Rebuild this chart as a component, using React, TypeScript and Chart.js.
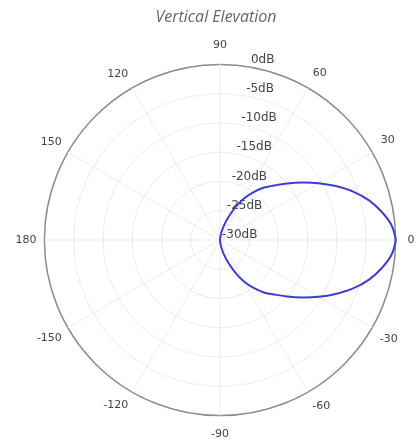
import React, { useEffect, useRef } from 'react';
import { Chart, registerables } from 'chart.js';

Chart.register(...registerables);

// Angles (degrees) in the order Chart.js walks them: from the top (90) clockwise.
const angleLabels = [
  90, 85, 80, 75, 70, 65, 60, 55, 50, 45, 40, 35, 30, 25, 20, 15, 10, 5, 0,
  -5, -10, -15, -20, -25, -30, -35, -40, -45, -50, -55, -60, -65, -70, -75, -80, -85, -90,
  -95, -100, -105, -110, -115, -120, -125, -130, -135, -140, -145, -150, -155, -160, -165, -170, -175,
  180, 175, 170, 165, 160, 155, 150, 145, 140, 135, 130, 125, 120, 115, 110, 105, 100, 95,
];

const gainDb = [
  -30, -29.6, -28.8, -27.5, -25.9, -23.9, -21.8, -20.0, -18.3, -16.8, -15.0, -12.9, -10.6, -8.2, -5.8, -3.7, -2.0, -0.6, 0,
  -0.6, -2.0, -3.7, -5.8, -8.2, -10.6, -12.9, -15.0, -16.8, -18.3, -20.0, -21.8, -23.9, -25.9, -27.5, -28.8, -29.6, -30,
  -30, -30, -30, -30, -30, -30, -30, -30, -30, -30, -30, -30, -30, -30, -30, -30, -30,
  -30, -30, -30, -30, -30, -30, -30, -30, -30, -30, -30, -30, -30, -30, -30, -30, -30, -30,
];

const tickValues = [-30, -25, -20, -15, -10, -5, 0];
const labelledAngles = [90, 60, 30, 0, -30, -60, -90, -120, -150, 180, 150, 120];
const labelPadding: Record<string, number> = {
  '90': 13, '60': 10, '30': 10, '0': 12, '-30': 9, '-60': 9,
  '-90': 12, '-120': 8, '-150': 7, '180': 8, '150': 7, '120': 8,
};

const tickLabelPlugin = {
  id: 'tickLabelPlugin',
  beforeDatasetsDraw(chart: any) {
    const s = chart.scales.r;
    const ctx = chart.ctx;
    ctx.save();
    ctx.font = '12px "DejaVu Sans"';
    ctx.fillStyle = '#444';
    ctx.textAlign = 'left';
    ctx.textBaseline = 'middle';
    tickValues.forEach((v) => {
      const r = s.getDistanceFromCenterForValue(v);
      ctx.fillText(`${v}dB`, s.xCenter + 2 + 0.165 * r, s.yCenter - r - 5);
    });
    ctx.restore();
  },
};

export default function App() {
  const ref = useRef<HTMLCanvasElement | null>(null);

  useEffect(() => {
    if (!ref.current) return;
    const chart = new Chart(ref.current, {
      type: 'radar',
      data: {
        labels: angleLabels.map(String),
        datasets: [
          {
            data: gainDb,
            borderColor: '#3d3dd2',
            borderWidth: 2,
            fill: false,
            pointRadius: 0,
            pointHoverRadius: 0,
          },
        ],
      },
      options: {
        animation: false,
        responsive: true,
        maintainAspectRatio: false,
        layout: { padding: { left: 0, right: 0, top: 0, bottom: 5 } },
        elements: { line: { tension: 0.25 } },
        plugins: {
          legend: { display: false },
          tooltip: { enabled: false },
          title: {
            display: true,
            text: 'Vertical Elevation',
            color: '#666',
            font: { family: '"Open Sans"', size: 16, style: 'italic', weight: 'normal' },
            padding: { top: 8, bottom: 11 },
          },
        },
        scales: {
          r: {
            min: -30,
            max: 0,
            startAngle: 0,
            ticks: { stepSize: 5, display: false, showLabelBackdrop: false },
            grid: {
              circular: true,
              color: (c: any) => (c.index === tickValues.length - 1 ? '#8c8c8c' : '#ebebeb'),
              lineWidth: (c: any) => (c.index === tickValues.length - 1 ? 1.5 : 1),
            },
            angleLines: {
              display: true,
              color: '#ebebeb',
              lineWidth: (c: any) => (angleLabels[c.index] % 30 === 0 ? 1 : 0),
            },
            pointLabels: {
              display: true,
              color: '#444',
              font: { family: '"DejaVu Sans"', size: 11 },
              padding: (c: any) => labelPadding[String(angleLabels[c.index])] ?? 10,
              callback: (label: string, index: number) =>
                labelledAngles.includes(angleLabels[index]) ? label : '',
            },
          },
        },
      },
      plugins: [tickLabelPlugin],
    });
    return () => chart.destroy();
  }, []);

  return (
    <div style={{ position: 'absolute', left: 0, top: 0, width: 416, height: 447, overflow: 'hidden' }}>
      <div style={{ position: 'absolute', left: 0, top: 0, width: 432, height: 447 }}>
        <canvas ref={ref} />
      </div>
    </div>
  );
}
